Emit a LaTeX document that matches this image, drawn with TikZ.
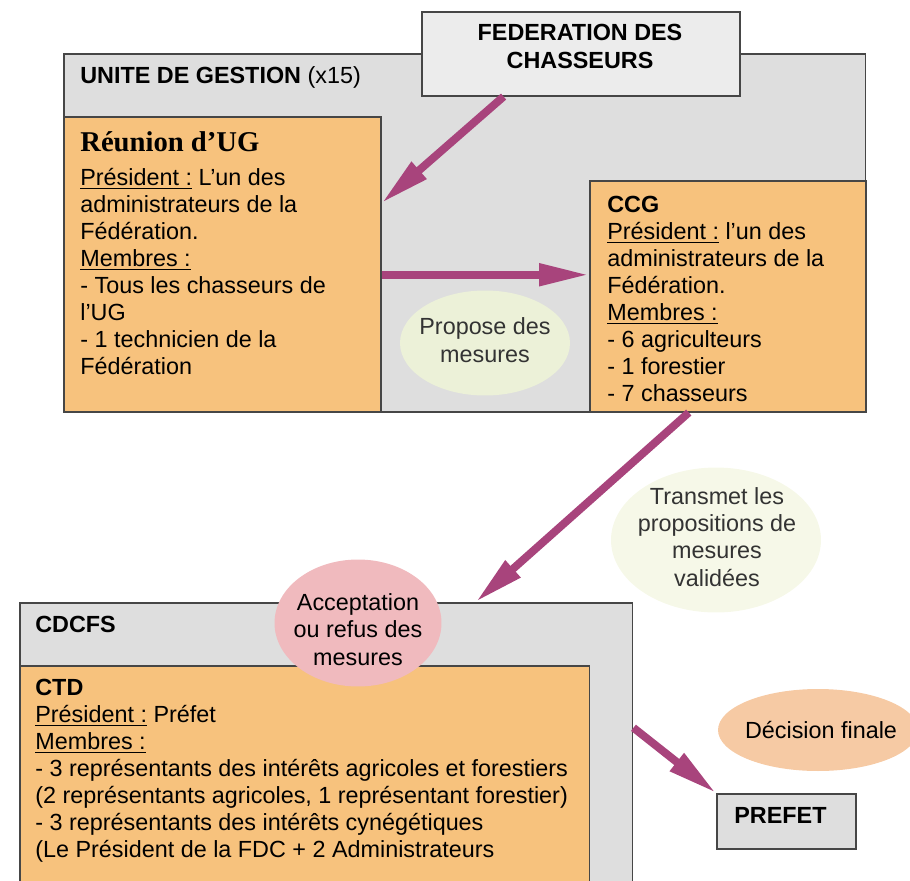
\documentclass[tikz,border=0pt]{standalone}
\usepackage{fontspec}
\setmainfont{Liberation Sans}
\newfontfamily\serifbf{Liberation Serif}
\usetikzlibrary{arrows.meta,shapes.geometric}
\definecolor{boxgrey}{RGB}{222,222,222}
\definecolor{fedgrey}{RGB}{236,236,236}
\definecolor{orangebox}{RGB}{247,194,125}
\definecolor{flowmag}{RGB}{168,68,124}
\definecolor{greenell}{RGB}{236,241,216}
\definecolor{paleell}{RGB}{246,248,232}
\definecolor{pinkell}{RGB}{240,186,190}
\definecolor{peachell}{RGB}{246,202,164}
\definecolor{edgegrey}{RGB}{70,70,70}
\tikzset{
 box/.style={draw=edgegrey,line width=0.9pt,anchor=north west,inner sep=0pt},
 bubble/.style={ellipse,inner sep=0pt},
 bubbletxt/.style={anchor=base,align=center,inner sep=0pt,text=black!80},
 txt/.style={anchor=base west,align=left,inner sep=0pt},
 block/.style={anchor=north west,align=left,inner sep=0pt},
 flow/.style={draw=flowmag,line width=4.5pt,-{Triangle[length=1cm,width=0.42cm]}}
}
\newcommand{\souligne}[1]{\underline{#1}}
\newcommand{\topline}{\rule{0pt}{14pt}}
\begin{document}
\begin{tikzpicture}[x=0.02cm,y=-0.02cm,font=\fontsize{13.3}{15.4}\selectfont]
\useasboundingbox (0,0) rectangle (910,880);
\clip (0,0) rectangle (910,880);
% unite de gestion
\node[box,fill=boxgrey,minimum width=16.04cm,minimum height=7.16cm] (ug) at (63,53) {};
\node[box,fill=fedgrey,minimum width=6.36cm,minimum height=1.68cm] (fed) at (421,11) {};
\node[anchor=base,align=center,inner sep=0pt,font=\fontsize{13.3}{15.4}\selectfont\bfseries] (fedtxt) at (580,68) {FEDERATION DES\\CHASSEURS};
\node[txt] (ugtitle) at (80,83) {\textbf{UNITE DE GESTION} (x15)};
\node[box,fill=orangebox,minimum width=6.34cm,minimum height=5.9cm] (reunion) at (63,116) {};
\node[box,fill=orangebox,minimum width=5.52cm,minimum height=4.62cm] (ccg) at (589,180) {};
\node[txt,font=\serifbf\bfseries\fontsize{16.3}{19}\selectfont] (reuniontitle) at (80,151) {Réunion d’UG};
\node[block] (reuniontxt) at (80,160.4) {\topline\souligne{Président :} L’un des\\administrateurs de la\\Fédération.\\\souligne{Membres :}\\- Tous les chasseurs de\\l'UG\\- 1 technicien de la\\Fédération};
\node[block] (ccgtxt) at (607,187.4) {\topline\textbf{CCG}\\\souligne{Président :} l’un des\\administrateurs de la\\Fédération.\\\souligne{Membres :}\\- 6 agriculteurs\\- 1 forestier\\- 7 chasseurs};
\node[bubble,fill=greenell,minimum width=3.4cm,minimum height=2.1cm] (propose) at (485,343) {};
\node[bubbletxt] (proposetxt) at (485,362) {Propose des\\mesures};
% fleches
\draw[flow] (fed.-151) -- (reunion.21);
\draw[flow] ([yshift=-0.21cm]reunion.east) coordinate (h1) -- (h1 -| ccg.west);
\node[bubble,fill=paleell,minimum width=4.2cm,minimum height=2.9cm] (transmet) at (716,540) {};
\node[bubbletxt] (transmettxt) at (717,586) {Transmet les\\propositions de\\mesures\\validées};
% CDCFS
\node[box,fill=boxgrey,minimum width=12.26cm,minimum height=5.96cm] (cdcfs) at (19,602) {};
\node[box,fill=orangebox,minimum width=11.4cm,minimum height=4.7cm] (ctd) at (19,665) {};
\node[txt] (cdcfstitle) at (35,632) {\textbf{CDCFS}};
\node[block] (ctdtxt) at (35,670.4) {\topline\textbf{CTD}\\\souligne{Président :} Préfet\\\souligne{Membres :}\\- 3 représentants des intérêts agricoles et forestiers\\(2 représentants agricoles, 1 représentant forestier)\\- 3 représentants des intérêts cynégétiques\\(Le Président de la FDC + 2 Administrateurs};
\node[bubble,fill=pinkell,minimum width=3.34cm,minimum height=2.54cm] (accept) at (358,623) {};
\node[bubbletxt,text=black] (accepttxt) at (358,665) {Acceptation\\ou refus des\\mesures};
\draw[flow] ([xshift=-0.78cm]ccg.south) -- ([xshift=2.99cm]cdcfs.north);
% prefet
\node[bubble,fill=peachell,minimum width=4cm,minimum height=1.64cm] (decision) at (818,730) {};
\node[bubbletxt,text=black] (decisiontxt) at (821,738) {Décision finale};
\node[box,fill=boxgrey,minimum width=2.78cm,minimum height=1.1cm] (prefet) at (716,793) {};
\node[txt,font=\fontsize{13.3}{15.4}\selectfont\bfseries] (prefettxt) at (734,823) {PREFET};
\draw[flow] ([yshift=0.48cm]cdcfs.east) -- (prefet.north west);
\end{tikzpicture}
\end{document}
